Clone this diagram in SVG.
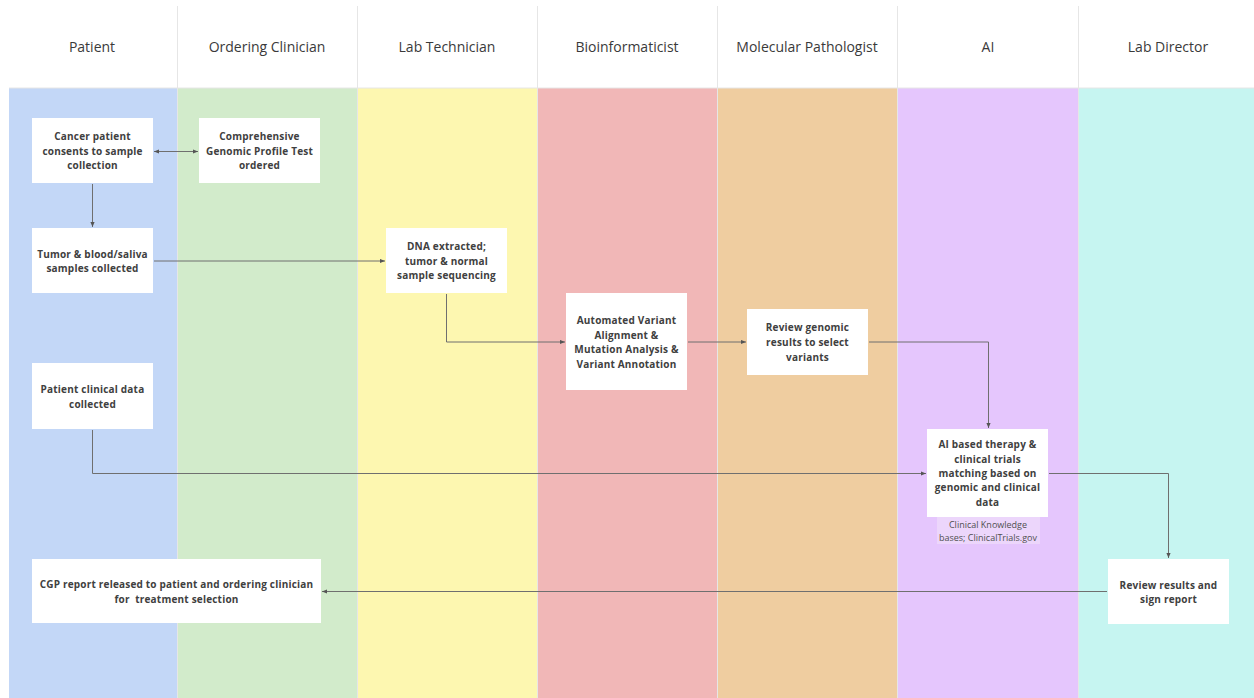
<svg xmlns="http://www.w3.org/2000/svg" width="1254" height="698" viewBox="0 0 1254 698">
<style>
.hdr{font-family:"Open Sans","Liberation Sans",sans-serif;font-size:14px;fill:#3a3a3a;text-anchor:middle}
.box{fill:#ffffff}
.t{font-family:"Open Sans","Liberation Sans",sans-serif;font-size:10px;font-weight:bold;letter-spacing:0.2px;fill:#404040;text-anchor:middle}
.note{font-family:"Open Sans","Liberation Sans",sans-serif;font-size:9px;fill:#505050;text-anchor:middle}
.c{fill:none;stroke:#6f6f6f;stroke-width:1}
.sep{stroke:#e6e6e6;stroke-width:1}
</style>
<defs>
<marker id="ah" viewBox="0 0 6 6" refX="6" refY="3" markerWidth="5" markerHeight="5" orient="auto-start-reverse" markerUnits="userSpaceOnUse">
<path d="M0,0.5 L6,3 L0,5.5 z" fill="#555"/>
</marker>
</defs>
<rect width="1254" height="698" fill="#ffffff"/>
<g id="lanes">
<rect x="9" y="88" width="168" height="610" fill="#c3d7f7"/>
<rect x="177" y="88" width="180" height="610" fill="#d2ebcb"/>
<rect x="357" y="88" width="180" height="610" fill="#fdf7b0"/>
<rect x="537" y="88" width="180" height="610" fill="#f1b7b7"/>
<rect x="717" y="88" width="180" height="610" fill="#efcda0"/>
<rect x="897" y="88" width="181" height="610" fill="#e5c6fd"/>
<rect x="1078" y="88" width="176" height="610" fill="#c6f5f1"/>
<line class="sep" x1="9" y1="88" x2="1254" y2="88"/>
<line class="sep" x1="177.5" y1="6" x2="177.5" y2="698"/>
<line class="sep" x1="357.5" y1="6" x2="357.5" y2="698"/>
<line class="sep" x1="537.5" y1="6" x2="537.5" y2="698"/>
<line class="sep" x1="717.5" y1="6" x2="717.5" y2="698"/>
<line class="sep" x1="897.5" y1="6" x2="897.5" y2="698"/>
<line class="sep" x1="1078.5" y1="6" x2="1078.5" y2="698"/>
<text class="hdr" x="92" y="52">Patient</text>
<text class="hdr" x="267" y="52">Ordering Clinician</text>
<text class="hdr" x="447" y="52">Lab Technician</text>
<text class="hdr" x="627" y="52">Bioinformaticist</text>
<text class="hdr" x="807" y="52">Molecular Pathologist</text>
<text class="hdr" x="988" y="52">AI</text>
<text class="hdr" x="1168" y="52">Lab Director</text>
</g>
<g id="connectors">
<line class="c" x1="154" y1="151.5" x2="198" y2="151.5" marker-start="url(#ah)" marker-end="url(#ah)"/>
<line class="c" x1="92.5" y1="184" x2="92.5" y2="227" marker-end="url(#ah)"/>
<line class="c" x1="154" y1="261" x2="385" y2="261" marker-end="url(#ah)"/>
<path class="c" d="M446.5,294 V342 H565" marker-end="url(#ah)"/>
<line class="c" x1="688" y1="342" x2="746" y2="342" marker-end="url(#ah)"/>
<path class="c" d="M869,342 H988.5 V428" marker-end="url(#ah)"/>
<path class="c" d="M92.5,430 V473.5 H926" marker-end="url(#ah)"/>
<path class="c" d="M1049,473.5 H1168.5 V558" marker-end="url(#ah)"/>
<line class="c" x1="1107" y1="591.5" x2="322" y2="591.5" marker-end="url(#ah)"/>
</g>
<g id="n1"><rect class="box" x="32" y="118" width="121" height="65"/>
<text class="t" x="92.5" y="140">Cancer patient</text><text class="t" x="92.5" y="155">consents to sample</text><text class="t" x="92.5" y="169">collection</text></g>
<g id="n2"><rect class="box" x="199" y="118" width="121" height="65"/>
<text class="t" x="259.5" y="140">Comprehensive</text><text class="t" x="259.5" y="155">Genomic Profile Test</text><text class="t" x="259.5" y="169">ordered</text></g>
<g id="n3"><rect class="box" x="32" y="228" width="121" height="65"/>
<text class="t" x="92.5" y="258">Tumor &amp; blood/saliva</text><text class="t" x="92.5" y="272">samples collected</text></g>
<g id="n4"><rect class="box" x="386" y="228" width="121" height="65"/>
<text class="t" x="446.5" y="250">DNA extracted;</text><text class="t" x="446.5" y="265">tumor &amp; normal</text><text class="t" x="446.5" y="279">sample sequencing</text></g>
<g id="n5"><rect class="box" x="566" y="293" width="121" height="97"/>
<text class="t" x="626.5" y="324">Automated Variant</text><text class="t" x="626.5" y="339">Alignment &amp;</text><text class="t" x="626.5" y="353">Mutation Analysis &amp;</text><text class="t" x="626.5" y="368">Variant Annotation</text></g>
<g id="n6"><rect class="box" x="747" y="309" width="121" height="66"/>
<text class="t" x="807.5" y="331">Review genomic</text><text class="t" x="807.5" y="346">results to select</text><text class="t" x="807.5" y="361">variants</text></g>
<g id="n7"><rect class="box" x="32" y="363" width="121" height="66"/>
<text class="t" x="92.5" y="393">Patient clinical data</text><text class="t" x="92.5" y="408">collected</text></g>
<g id="n8"><rect class="box" x="927" y="429" width="121" height="88"/>
<text class="t" x="987.5" y="448">AI based therapy &amp;</text><text class="t" x="987.5" y="463">clinical trials</text><text class="t" x="987.5" y="477">matching based on</text><text class="t" x="987.5" y="491">genomic and clinical</text><text class="t" x="987.5" y="506">data</text></g>
<g id="n9"><rect x="937" y="517" width="103" height="27" fill="#ecd6fb"/>
<text class="note" x="988" y="528">Clinical Knowledge</text><text class="note" x="988" y="541">bases; ClinicalTrials.gov</text></g>
<g id="n10"><rect class="box" x="1108" y="559" width="121" height="65"/>
<text class="t" x="1168.5" y="589">Review results and</text><text class="t" x="1168.5" y="603">sign report</text></g>
<g id="n11"><rect class="box" x="32" y="559" width="289" height="64"/>
<text class="t" x="176.5" y="588">CGP report released to patient and ordering clinician</text><text class="t" x="176.5" y="603" xml:space="preserve">for  treatment selection</text></g>
</svg>
